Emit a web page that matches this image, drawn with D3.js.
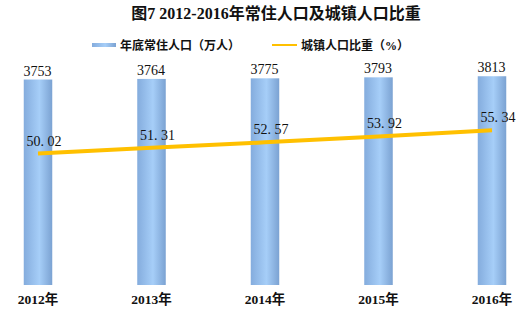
<!DOCTYPE html>
<html>
<head>
<meta charset="utf-8">
<script src="https://cdn.jsdelivr.net/npm/d3@7"></script>
<style>
  body { margin: 0; background: #fff; }
  svg { display: block; }
</style>
</head>
<body>
<script>
var years = ['2012年', '2013年', '2014年', '2015年', '2016年'];
var population = [3753, 3764, 3775, 3793, 3813];
var urbanRate = [50.02, 51.31, 52.57, 53.92, 55.34];

var width = 530;
var height = 316;
var cjk = '"Liberation Serif", "Noto Sans CJK SC", serif';

var svg = d3.select('body')
  .append('svg')
  .attr('width', width)
  .attr('height', height);

var defs = svg.append('defs');
var grad = defs.append('linearGradient')
  .attr('id', 'barGrad')
  .attr('x1', '0%').attr('x2', '100%')
  .attr('y1', '0%').attr('y2', '0%');
grad.append('stop').attr('offset', '0%').attr('stop-color', '#84ACDD');
grad.append('stop').attr('offset', '55%').attr('stop-color', '#A6CEF8');
grad.append('stop').attr('offset', '100%').attr('stop-color', '#7BA2D2');

// plot area runs a bit past the picture edges, like the original
var x = d3.scaleBand()
  .domain(years)
  .range([-18.75, 548.75]);

var y = d3.scaleLinear()
  .domain([0, 4000])
  .range([285, 66]);

var y2 = d3.scaleLinear()
  .domain([20, 70])
  .range([285, 66]);

var barW = 28.5;

function cx(d) {
  return x(d) + x.bandwidth() / 2;
}

// title
svg.append('text')
  .attr('x', 276)
  .attr('y', 19)
  .attr('text-anchor', 'middle')
  .attr('font-family', cjk)
  .attr('font-size', '16px')
  .attr('font-weight', 'bold')
  .attr('fill', '#111')
  .text('图7 2012-2016年常住人口及城镇人口比重');

// legend
var legend = svg.append('g');
legend.append('rect')
  .attr('x', 92).attr('y', 43)
  .attr('width', 24).attr('height', 4)
  .attr('fill', 'url(#barGrad)');
legend.append('text')
  .attr('x', 120).attr('y', 49.5)
  .attr('font-family', cjk)
  .attr('font-size', '12px')
  .attr('font-weight', 'bold')
  .attr('fill', '#111')
  .text('年底常住人口（万人）');
legend.append('line')
  .attr('x1', 272).attr('x2', 297)
  .attr('y1', 45).attr('y2', 45)
  .attr('stroke', '#FFC000')
  .attr('stroke-width', 2);
legend.append('text')
  .attr('x', 301).attr('y', 49.5)
  .attr('font-family', cjk)
  .attr('font-size', '12px')
  .attr('font-weight', 'bold')
  .attr('fill', '#111')
  .text('城镇人口比重（%）');

// bars
var barData = years.map(function(d, i) {
  return { year: d, value: population[i] };
});

svg.append('g')
  .selectAll('rect')
  .data(barData)
  .enter()
  .append('rect')
  .attr('x', function(d) { return cx(d.year) - barW / 2; })
  .attr('y', function(d) { return y(d.value); })
  .attr('width', barW)
  .attr('height', function(d) { return y(0) - y(d.value); })
  .attr('fill', 'url(#barGrad)');

svg.append('g')
  .selectAll('text')
  .data(barData)
  .enter()
  .append('text')
  .attr('x', function(d) { return cx(d.year) - 0.5; })
  .attr('y', function(d) { return y(d.value) - 4; })
  .attr('text-anchor', 'middle')
  .attr('font-family', cjk)
  .attr('font-size', '14px')
  .attr('fill', '#111')
  .text(function(d) { return d.value; });

// line
var lineData = years.map(function(d, i) {
  return { year: d, value: urbanRate[i] };
});

var line = d3.line()
  .x(function(d) { return cx(d.year); })
  .y(function(d) { return y2(d.value); });

svg.append('path')
  .datum(lineData)
  .attr('d', line)
  .attr('fill', 'none')
  .attr('stroke', '#FFC000')
  .attr('stroke-width', 4)
  .attr('stroke-linecap', 'butt');

svg.append('g')
  .selectAll('text')
  .data(lineData)
  .enter()
  .append('text')
  .attr('x', function(d) { return cx(d.year) + 6; })
  .attr('y', function(d) { return y2(d.value) - 8; })
  .attr('text-anchor', 'middle')
  .attr('font-family', cjk)
  .attr('font-size', '14px')
  .attr('fill', '#111')
  .text(function(d) { return d.value.toFixed(2).replace('.', '. '); });

// x axis labels
var xAxis = d3.axisBottom(x).tickSize(0).tickPadding(7);
var gx = svg.append('g')
  .attr('transform', 'translate(0,' + (y(0) + 0) + ')')
  .call(xAxis);
gx.select('.domain').remove();
gx.selectAll('text')
  .attr('font-family', cjk)
  .attr('font-size', '13.5px')
  .attr('font-weight', 'bold')
  .attr('fill', '#111')
  .attr('dy', '0.9em');
</script>
</body>
</html>
